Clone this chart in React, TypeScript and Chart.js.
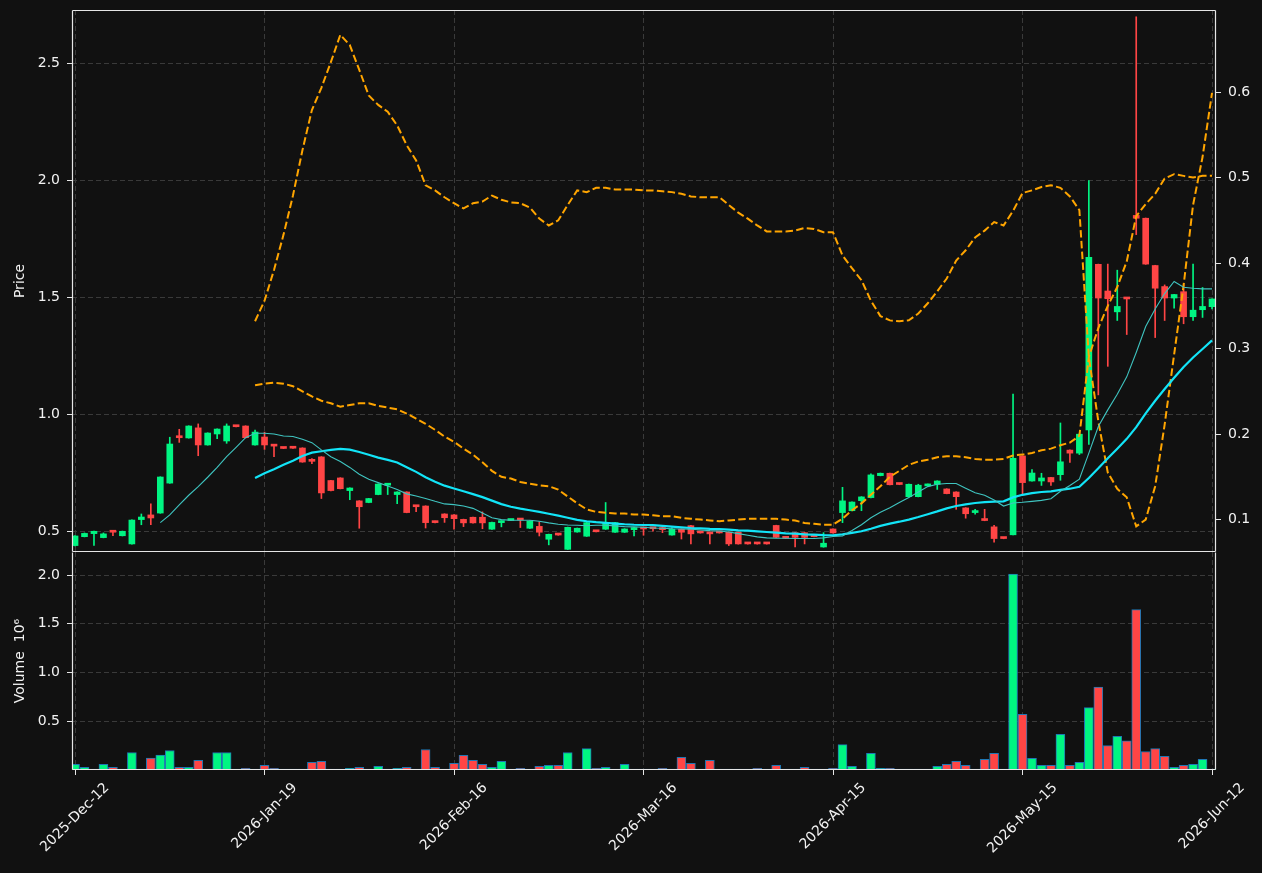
import React, { useEffect, useRef } from 'react';
import { Chart, registerables } from 'chart.js';
Chart.register(...registerables);

// ---------- data ----------
const tickIndex = [0, 20, 40, 60, 80, 100, 120];
const tickLabels = ['2025-Dec-12', '2026-Jan-19', '2026-Feb-16', '2026-Mar-16', '2026-Apr-15', '2026-May-15', '2026-Jun-12'];
const priceTicks = [0.5, 1.0, 1.5, 2.0, 2.5];
const rightTicks = [0.1, 0.2, 0.3, 0.4, 0.5, 0.6];
const volumeTicks = [0.5, 1.0, 1.5, 2.0];

const openP = [0.439,0.477,0.490,0.473,0.500,0.481,0.446,0.550,0.570,0.578,
0.706,0.903,0.899,0.942,0.869,0.916,0.886,0.950,0.950,0.869,
0.903,0.869,0.857,0.862,0.856,0.802,0.818,0.717,0.728,0.674,
0.630,0.623,0.657,0.697,0.657,0.668,0.608,0.608,0.543,0.574,
0.570,0.551,0.560,0.560,0.509,0.537,0.546,0.550,0.513,0.521,
0.466,0.486,0.423,0.497,0.479,0.500,0.509,0.496,0.496,0.507,
0.516,0.516,0.516,0.484,0.509,0.524,0.495,0.496,0.495,0.496,
0.496,0.448,0.448,0.448,0.525,0.471,0.494,0.494,0.478,0.433,
0.510,0.580,0.588,0.631,0.644,0.738,0.748,0.702,0.648,0.648,
0.694,0.701,0.681,0.668,0.600,0.580,0.551,0.519,0.471,0.485,
0.822,0.715,0.715,0.730,0.742,0.847,0.834,0.933,1.641,1.527,
1.438,1.496,1.850,1.838,1.636,1.546,1.497,1.524,1.417,1.447,
1.460];

const closeP = [0.480,0.491,0.500,0.489,0.496,0.500,0.548,0.561,0.557,0.732,
0.873,0.900,0.950,0.869,0.920,0.937,0.950,0.947,0.900,0.924,
0.869,0.864,0.854,0.855,0.796,0.799,0.664,0.674,0.682,0.685,
0.605,0.640,0.702,0.701,0.668,0.580,0.605,0.537,0.537,0.558,
0.554,0.536,0.536,0.536,0.538,0.544,0.548,0.548,0.544,0.496,
0.487,0.484,0.517,0.513,0.537,0.498,0.537,0.537,0.510,0.516,
0.510,0.511,0.507,0.509,0.496,0.489,0.493,0.489,0.493,0.446,
0.446,0.446,0.446,0.446,0.474,0.470,0.474,0.474,0.477,0.449,
0.493,0.630,0.625,0.647,0.741,0.748,0.699,0.700,0.701,0.697,
0.701,0.715,0.661,0.648,0.575,0.587,0.546,0.469,0.469,0.812,
0.708,0.749,0.728,0.711,0.797,0.834,0.915,1.671,1.497,1.494,
1.461,1.493,1.838,1.642,1.539,1.497,1.512,1.417,1.445,1.461,
1.493];

const highP = [0.482,0.493,0.501,0.493,0.501,0.501,0.549,0.574,0.617,0.733,
0.902,0.936,0.951,0.959,0.921,0.938,0.959,0.951,0.951,0.933,
0.924,0.871,0.858,0.863,0.857,0.811,0.819,0.718,0.729,0.686,
0.631,0.641,0.703,0.705,0.669,0.669,0.609,0.609,0.544,0.575,
0.571,0.552,0.561,0.583,0.539,0.545,0.549,0.551,0.545,0.541,
0.488,0.487,0.518,0.514,0.538,0.501,0.623,0.538,0.511,0.517,
0.517,0.517,0.517,0.516,0.510,0.525,0.496,0.497,0.496,0.497,
0.497,0.449,0.449,0.449,0.526,0.472,0.495,0.495,0.479,0.494,
0.511,0.688,0.626,0.648,0.746,0.749,0.749,0.703,0.702,0.701,
0.702,0.716,0.682,0.669,0.601,0.594,0.594,0.526,0.472,1.086,
0.823,0.764,0.748,0.731,0.963,0.848,0.916,1.999,1.642,1.642,
1.616,1.497,2.699,1.839,1.637,1.553,1.513,1.553,1.642,1.542,
1.494];

const lowP = [0.437,0.476,0.440,0.472,0.481,0.480,0.445,0.528,0.528,0.577,
0.705,0.880,0.898,0.823,0.868,0.896,0.876,0.946,0.899,0.868,
0.850,0.819,0.853,0.854,0.795,0.789,0.640,0.673,0.681,0.635,
0.513,0.622,0.656,0.657,0.618,0.579,0.584,0.514,0.536,0.538,
0.509,0.520,0.535,0.511,0.508,0.519,0.545,0.516,0.512,0.480,
0.442,0.483,0.422,0.496,0.478,0.497,0.508,0.495,0.495,0.480,
0.483,0.501,0.494,0.483,0.467,0.446,0.492,0.446,0.492,0.439,
0.445,0.445,0.445,0.445,0.473,0.469,0.433,0.446,0.476,0.432,
0.492,0.537,0.587,0.588,0.643,0.737,0.698,0.699,0.647,0.647,
0.693,0.679,0.660,0.594,0.556,0.573,0.545,0.453,0.468,0.484,
0.660,0.714,0.696,0.696,0.718,0.794,0.828,0.871,1.083,1.205,
1.401,1.341,1.768,1.641,1.328,1.401,1.454,1.387,1.401,1.414,
1.450];

// volume, in millions
const volumeM = [0.058,0.027,0.007,0.058,0.027,0.007,0.18,0.005,0.123,0.154,
0.20,0.027,0.027,0.10,0.005,0.18,0.18,0.003,0.017,0.003,
0.048,0.017,0.002,0.005,0.005,0.078,0.089,0.003,0.002,0.017,
0.027,0.005,0.038,0.003,0.017,0.027,0.002,0.21,0.027,0.005,
0.068,0.15,0.10,0.058,0.027,0.089,0.003,0.017,0.005,0.038,
0.048,0.048,0.18,0.005,0.22,0.017,0.027,0.002,0.058,0.004,
0.003,0.003,0.017,0.004,0.13,0.068,0.002,0.10,0.002,0.004,
0.002,0.004,0.017,0.002,0.048,0.002,0.004,0.027,0.002,0.004,
0.017,0.26,0.038,0.002,0.17,0.017,0.017,0.002,0.002,0.004,
0.002,0.038,0.058,0.089,0.048,0.004,0.11,0.17,0.002,2.01,
0.57,0.12,0.048,0.048,0.365,0.048,0.078,0.64,0.85,0.25,
0.345,0.30,1.645,0.19,0.22,0.14,0.027,0.048,0.058,0.11,
0.003];

const ma10Start = 9;
const ma10 = [0.537,0.570,0.613,0.654,0.691,0.731,0.773,0.819,0.859,0.900,
0.919,0.919,0.916,0.907,0.905,0.893,0.879,0.848,0.819,0.798,
0.773,0.744,0.722,0.708,0.694,0.679,0.660,0.651,0.640,0.628,
0.617,0.614,0.608,0.598,0.578,0.558,0.550,0.547,0.547,0.547,
0.543,0.536,0.530,0.527,0.526,0.524,0.526,0.526,0.523,0.520,
0.519,0.517,0.514,0.513,0.511,0.510,0.509,0.506,0.503,0.501,
0.497,0.490,0.483,0.476,0.472,0.470,0.470,0.469,0.469,0.469,
0.472,0.478,0.480,0.503,0.528,0.558,0.581,0.601,0.623,0.644,
0.668,0.691,0.701,0.704,0.704,0.684,0.665,0.654,0.634,0.608,
0.621,0.624,0.628,0.632,0.639,0.671,0.696,0.723,0.834,0.948,
1.019,1.086,1.160,1.264,1.375,1.450,1.516,1.568,1.543,1.539,
1.536,1.536];

const ma20Start = 19;
const ma20 = [0.728,0.748,0.765,0.784,0.802,0.822,0.836,0.842,0.848,0.852,
0.849,0.839,0.827,0.815,0.805,0.794,0.774,0.754,0.731,0.712,
0.695,0.683,0.671,0.659,0.646,0.631,0.616,0.605,0.597,0.590,
0.583,0.575,0.567,0.558,0.549,0.543,0.539,0.536,0.533,0.530,
0.528,0.527,0.526,0.523,0.520,0.517,0.514,0.513,0.510,0.509,
0.507,0.504,0.503,0.500,0.497,0.494,0.491,0.490,0.487,0.486,
0.484,0.483,0.487,0.493,0.500,0.511,0.523,0.533,0.541,0.550,
0.561,0.573,0.585,0.598,0.608,0.615,0.621,0.625,0.627,0.628,
0.645,0.656,0.663,0.668,0.671,0.677,0.682,0.690,0.728,0.769,
0.812,0.853,0.895,0.945,1.004,1.058,1.108,1.156,1.202,1.243,
1.279,1.316];

const bandStart = 19;
const bandUpper = [0.332,0.356,0.392,0.433,0.479,0.532,0.579,0.605,0.635,0.667,
0.655,0.626,0.596,0.585,0.577,0.561,0.538,0.520,0.491,0.485,
0.477,0.470,0.464,0.470,0.472,0.479,0.474,0.471,0.470,0.465,
0.452,0.444,0.450,0.468,0.485,0.483,0.488,0.488,0.486,0.486,
0.486,0.485,0.485,0.484,0.483,0.481,0.478,0.477,0.477,0.477,
0.468,0.459,0.452,0.444,0.437,0.437,0.437,0.438,0.441,0.440,
0.436,0.436,0.409,0.394,0.380,0.356,0.338,0.333,0.332,0.333,
0.341,0.353,0.367,0.382,0.403,0.415,0.430,0.438,0.448,0.444,
0.461,0.482,0.485,0.489,0.491,0.488,0.478,0.462,0.290,0.215,
0.155,0.136,0.126,0.092,0.100,0.139,0.211,0.293,0.374,0.468,
0.524,0.599];

const bandLower = [0.257,0.259,0.260,0.259,0.256,0.250,0.244,0.239,0.236,0.232,
0.234,0.236,0.236,0.233,0.231,0.229,0.224,0.218,0.212,0.205,
0.197,0.191,0.183,0.176,0.167,0.157,0.150,0.148,0.144,0.142,
0.140,0.139,0.135,0.127,0.119,0.112,0.109,0.108,0.107,0.107,
0.106,0.106,0.105,0.104,0.104,0.102,0.101,0.100,0.099,0.098,
0.099,0.100,0.101,0.101,0.101,0.101,0.100,0.099,0.096,0.095,
0.094,0.094,0.101,0.111,0.119,0.129,0.139,0.150,0.157,0.164,
0.168,0.170,0.173,0.174,0.174,0.173,0.171,0.170,0.170,0.171,
0.175,0.176,0.178,0.181,0.183,0.187,0.190,0.198,0.290,0.324,
0.350,0.372,0.402,0.455,0.469,0.481,0.499,0.504,0.502,0.500,
0.502,0.502];

// ---------- style ----------
const BG = '#111111';
const UP = '#00f582';
const DOWN = '#ff4545';
const GRID = '#3a3a3a';
const FRAME = '#e6e6e6';
const TEXT = '#f2f2f2';
const MA_THIN = '#3fc4c0';
const MA_THICK = '#12e4f7';
const BAND = '#ffa500';
const VOL_EDGE = '#1f77b4';
const FONT = { family: 'DejaVu Sans', size: 14 };

const W = 1262;
const LEFT_W = 72;
const RIGHT_W = 46;
const X_MIN = -0.32;
const X_MAX = 120.42;

const idx = openP.map((_, i) => i);
const colorOf = (i: number) => (closeP[i] >= openP[i] ? UP : DOWN);
const candleColors = idx.map(colorOf);

const framePlugin = {
  id: 'frame',
  afterDraw(chart: any, _args: any, opts: any) {
    const { ctx, chartArea: a } = chart;
    ctx.save();
    ctx.strokeStyle = FRAME;
    ctx.lineWidth = 1.2;
    ctx.beginPath();
    const l = a.left + 0.5, r = a.right - 0.5, t = a.top + 0.5, b = a.bottom - 0.5;
    if (opts.top) { ctx.moveTo(l, t); ctx.lineTo(r, t); }
    ctx.moveTo(l, t); ctx.lineTo(l, b);
    ctx.moveTo(r, t); ctx.lineTo(r, b);
    ctx.moveTo(l, b); ctx.lineTo(r, b);
    ctx.stroke();
    ctx.restore();
  },
};

// rotated (45°) x labels, centred under their tick like matplotlib's default
const dateLabelPlugin = {
  id: 'dateLabels',
  afterDraw(chart: any, _args: any, opts: any) {
    if (!opts.show) return;
    const { ctx, chartArea: a } = chart;
    const xs = chart.scales.x;
    ctx.save();
    ctx.fillStyle = TEXT;
    ctx.font = `${FONT.size}px "${FONT.family}"`;
    ctx.textAlign = 'center';
    ctx.textBaseline = 'middle';
    const h = 16;
    const top = a.bottom + 5 + 5;
    tickIndex.forEach((v, k) => {
      const label = tickLabels[k];
      const L = ctx.measureText(label).width;
      const bh = (L + h) * Math.SQRT1_2;
      const cx = xs.getPixelForValue(v);
      const cy = top + bh / 2;
      ctx.save();
      ctx.translate(cx, cy);
      ctx.rotate(-Math.PI / 4);
      ctx.fillText(label, 0, 0);
      ctx.restore();
    });
    ctx.restore();
  },
};

const zeroPad = (s: any) => { s.paddingTop = 0; s.paddingBottom = 0; s.paddingLeft = 0; s.paddingRight = 0; };
const xTicksHook = (s: any) => { s.ticks = tickIndex.map((v) => ({ value: v })); };

export default function App() {
  const mainRef = useRef<HTMLCanvasElement>(null);
  const volRef = useRef<HTMLCanvasElement>(null);

  useEffect(() => {
    const main = new Chart(mainRef.current as HTMLCanvasElement, {
      type: 'bar',
      data: {
        datasets: [
          {
            type: 'line', label: 'MA10', yAxisID: 'y', order: 0,
            data: ma10.map((v, k) => ({ x: k + ma10Start, y: v })),
            borderColor: MA_THIN, borderWidth: 1.1, pointRadius: 0, tension: 0,
          },
          {
            type: 'line', label: 'MA20', yAxisID: 'y', order: 0,
            data: ma20.map((v, k) => ({ x: k + ma20Start, y: v })),
            borderColor: MA_THICK, borderWidth: 2.2, pointRadius: 0, tension: 0,
          },
          {
            type: 'line', label: 'Upper', yAxisID: 'yR', order: 0,
            data: bandUpper.map((v, k) => ({ x: k + bandStart, y: v })),
            borderColor: BAND, borderWidth: 2, borderDash: [7.5, 3.3], pointRadius: 0, tension: 0,
          },
          {
            type: 'line', label: 'Lower', yAxisID: 'yR', order: 0,
            data: bandLower.map((v, k) => ({ x: k + bandStart, y: v })),
            borderColor: BAND, borderWidth: 2, borderDash: [7.5, 3.3], pointRadius: 0, tension: 0,
          },
          {
            type: 'bar', label: 'Body', yAxisID: 'y', order: 1,
            data: idx.map((i) => ({ x: i, y: [openP[i], closeP[i]] })),
            backgroundColor: candleColors, barThickness: 6, grouped: false, minBarLength: 2,
          },
          {
            type: 'bar', label: 'Wick', yAxisID: 'y', order: 2,
            data: idx.map((i) => ({ x: i, y: [lowP[i], highP[i]] })),
            backgroundColor: candleColors, barThickness: 1, grouped: false,
          },
        ] as any,
      },
      options: {
        responsive: false,
        maintainAspectRatio: false,
        devicePixelRatio: 1,
        animation: false,
        layout: { padding: { top: 10, left: 0, right: 0, bottom: 0 } },
        plugins: { legend: { display: false }, tooltip: { enabled: false }, frame: { top: true }, dateLabels: { show: false } } as any,
        scales: {
          x: {
            type: 'linear', min: X_MIN, max: X_MAX, offset: false,
            afterBuildTicks: xTicksHook,
            afterFit: (s: any) => { s.height = 0; zeroPad(s); },
            ticks: { display: false },
            grid: { color: GRID, offset: false, drawTicks: false },
            border: { display: false, dash: [5, 3] },
          },
          y: {
            type: 'linear', position: 'left', min: 0.4115, max: 2.728,
            afterBuildTicks: (s: any) => { s.ticks = priceTicks.map((v) => ({ value: v })); },
            afterFit: (s: any) => { s.width = LEFT_W; zeroPad(s); },
            ticks: { color: TEXT, font: FONT, padding: 7, callback: (v: any) => Number(v).toFixed(1) },
            grid: { color: GRID, tickColor: FRAME, tickLength: 5, tickBorderDash: [1, 0] },
            border: { display: false, dash: [5, 3] },
            title: { display: true, text: 'Price', color: TEXT, font: FONT, padding: { top: 12, bottom: 0 } },
          },
          yR: {
            type: 'linear', position: 'right', min: 0.0621, max: 0.696,
            afterBuildTicks: (s: any) => { s.ticks = rightTicks.map((v) => ({ value: v })); },
            afterFit: (s: any) => { s.width = RIGHT_W; zeroPad(s); },
            ticks: { color: TEXT, font: FONT, padding: 7, callback: (v: any) => Number(v).toFixed(1) },
            grid: { drawOnChartArea: false, color: FRAME, tickColor: FRAME, tickLength: 5, tickBorderDash: [1, 0] },
            border: { display: false },
          },
        } as any,
      },
      plugins: [framePlugin, dateLabelPlugin],
    });

    const vol = new Chart(volRef.current as HTMLCanvasElement, {
      type: 'bar',
      data: {
        datasets: [
          {
            label: 'Volume',
            data: idx.map((i) => ({ x: i, y: volumeM[i] })),
            backgroundColor: candleColors,
            borderColor: VOL_EDGE,
            borderWidth: 1,
            barThickness: 9,
            minBarLength: 1,
          },
        ] as any,
      },
      options: {
        responsive: false,
        maintainAspectRatio: false,
        devicePixelRatio: 1,
        animation: false,
        layout: { padding: { top: 0, left: 0, right: RIGHT_W, bottom: 0 } },
        plugins: { legend: { display: false }, tooltip: { enabled: false }, frame: { top: false }, dateLabels: { show: true } } as any,
        scales: {
          x: {
            type: 'linear', min: X_MIN, max: X_MAX, offset: false,
            afterBuildTicks: xTicksHook,
            afterFit: (s: any) => { s.height = 103; zeroPad(s); },
            ticks: { display: false },
            grid: { color: GRID, offset: false, tickColor: FRAME, tickLength: 5, tickBorderDash: [1, 0] },
            border: { display: false, dash: [5, 3] },
          },
          y: {
            type: 'linear', position: 'left', min: 0, max: 2.237,
            afterBuildTicks: (s: any) => { s.ticks = volumeTicks.map((v) => ({ value: v })); },
            afterFit: (s: any) => { s.width = LEFT_W; zeroPad(s); },
            ticks: { color: TEXT, font: FONT, padding: 7, callback: (v: any) => Number(v).toFixed(1) },
            grid: { color: GRID, tickColor: FRAME, tickLength: 5, tickBorderDash: [1, 0] },
            border: { display: false, dash: [5, 3] },
            title: { display: true, text: 'Volume  10⁶', color: TEXT, font: FONT, padding: { top: 12, bottom: 0 } },
          },
        } as any,
      },
      plugins: [framePlugin, dateLabelPlugin],
    });

    return () => { main.destroy(); vol.destroy(); };
  }, []);

  return (
    <div style={{ position: 'absolute', left: 0, top: 0, width: W, height: 873, background: BG, overflow: 'hidden' }}>
      <canvas ref={mainRef} width={W} height={552} style={{ position: 'absolute', left: 0, top: 0, width: W, height: 552 }} />
      <canvas ref={volRef} width={W} height={321} style={{ position: 'absolute', left: 0, top: 552, width: W, height: 321 }} />
    </div>
  );
}
